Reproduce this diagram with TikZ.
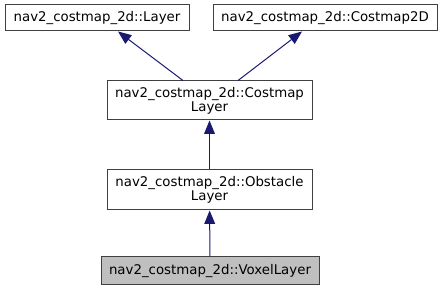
\documentclass[tikz,border=0pt]{standalone}
\usepackage{fontspec}
\setmainfont{DejaVu Sans}
\usetikzlibrary{arrows.meta, positioning}

\definecolor{edgeblue}{HTML}{191970}

\begin{document}
\begin{tikzpicture}[
        x=0.75pt, y=-0.75pt,
        block/.style={rectangle, draw=black!75, line width=0.75pt, fill=white, text centered, inner sep=0pt, font=\fontsize{10}{10.5}\selectfont, align=center},
        current/.style={block, fill=black!25},
        line/.style={draw=edgeblue, line width=0.75pt, -{Triangle[length=10pt, width=8pt, fill=edgeblue]}}
        ]
        \useasboundingbox (0,0) rectangle (443,291);
        \node[block, minimum width=138pt, minimum height=19.5pt] (layer) at (97,18) {nav2\_costmap\_2d::Layer};
        \node[block, minimum width=168pt, minimum height=19.5pt] (costmap2d) at (325,18) {nav2\_costmap\_2d::Costmap2D};
        \node[block, minimum width=153.75pt, minimum height=29.25pt] (costmaplayer) at (209.5,100.5) {nav2\_costmap\_2d::Costmap\\Layer};
        \node[block, minimum width=153.75pt, minimum height=30pt] (obstaclelayer) at (209.5,190) {nav2\_costmap\_2d::Obstacle\\Layer};
        \node[current, minimum width=163.5pt, minimum height=21pt] (voxellayer) at (210,271) {nav2\_costmap\_2d::VoxelLayer};

        \path[line] ([xshift=-19.9pt]costmaplayer.north) -- ([xshift=15.75pt]layer.south);
        \path[line] ([xshift=21.4pt]costmaplayer.north) -- ([xshift=-17.25pt]costmap2d.south);
        \path[line] (obstaclelayer) -- (costmaplayer);
        \path[line] (voxellayer) -- (obstaclelayer);
      \end{tikzpicture}
\end{document}
